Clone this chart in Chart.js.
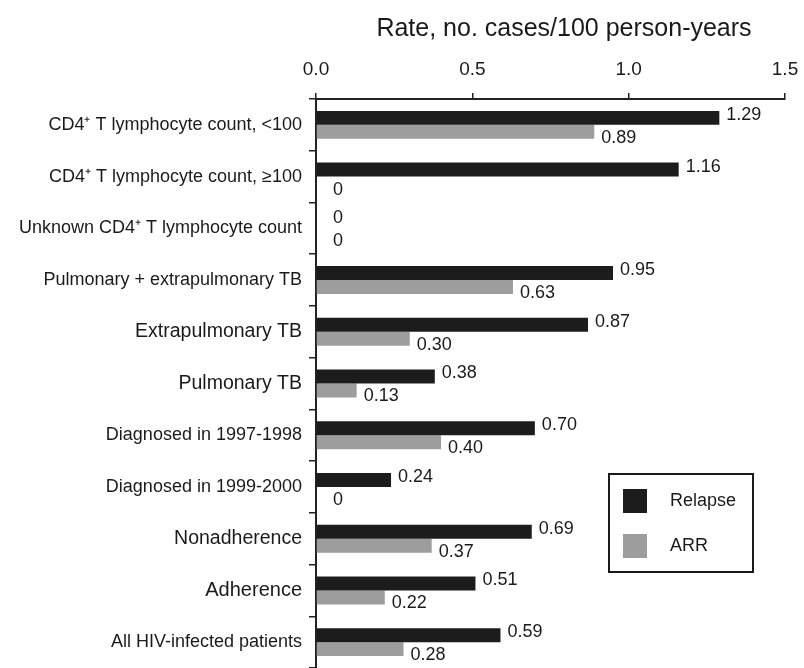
<!DOCTYPE html>
<html>
<head>
<meta charset="utf-8">
<script src="https://cdn.jsdelivr.net/npm/chart.js@4/dist/chart.umd.min.js"></script>
<style>
html,body{margin:0;padding:0;background:#fff;}
canvas{display:block;}
</style>
</head>
<body>
<canvas id="c" width="804" height="668"></canvas>
<script>
const categories = [
  "CD4\u207A T lymphocyte count, <100",
  "CD4\u207A T lymphocyte count, \u2265100",
  "Unknown CD4\u207A T lymphocyte count",
  "Pulmonary + extrapulmonary TB",
  "Extrapulmonary TB",
  "Pulmonary TB",
  "Diagnosed in 1997-1998",
  "Diagnosed in 1999-2000",
  "Nonadherence",
  "Adherence",
  "All HIV-infected patients"
];
const relapse = [1.29, 1.16, 0, 0.95, 0.87, 0.38, 0.70, 0.24, 0.69, 0.51, 0.59];
const arr = [0.89, 0, 0, 0.63, 0.30, 0.13, 0.40, 0, 0.37, 0.22, 0.28];
const xTicks = [0.0, 0.5, 1.0, 1.5];
const axisTitle = "Rate, no. cases/100 person-years";

const FONT = '"Liberation Sans", Arial, Helvetica, sans-serif';
const catFontSizes = [18,18,18,18,19.5,19.5,18,18,19.5,20,18];

const valueLabels = {
  id: 'valueLabels',
  afterDatasetsDraw(chart) {
    const ctx = chart.ctx;
    ctx.save();
    ctx.font = '18px ' + FONT;
    ctx.fillStyle = '#1a1a1a';
    ctx.textAlign = 'left';
    ctx.textBaseline = 'middle';
    chart.data.datasets.forEach((ds, di) => {
      const meta = chart.getDatasetMeta(di);
      meta.data.forEach((el, i) => {
        const v = ds.data[i];
        const txt = v === 0 ? '0' : v.toFixed(2);
        const dx = v === 0 ? 17 : 7;
        const dy = di === 0 ? -3 : 6;
        ctx.fillText(txt, el.x + dx, el.y + dy);
      });
    });
    ctx.restore();
  }
};

const titleAndLegend = {
  id: 'titleAndLegend',
  afterDraw(chart) {
    const ctx = chart.ctx;
    ctx.save();
    ctx.fillStyle = '#1a1a1a';
    ctx.font = '25px ' + FONT;
    ctx.textAlign = 'center';
    ctx.textBaseline = 'alphabetic';
    ctx.fillText(axisTitle, 564, 36);
    // legend
    ctx.strokeStyle = '#1a1a1a';
    ctx.lineWidth = 2;
    ctx.strokeRect(609, 474, 144, 98);
    ctx.font = '18px ' + FONT;
    ctx.textAlign = 'left';
    ctx.textBaseline = 'middle';
    chart.data.datasets.forEach((ds, di) => {
      const y = 489 + di * 45;
      ctx.fillStyle = ds.backgroundColor;
      ctx.fillRect(623, y, 24, 24);
      ctx.fillStyle = '#1a1a1a';
      ctx.fillText(ds.label, 670, y + 12);
    });
    ctx.restore();
  }
};

new Chart(document.getElementById('c'), {
  type: 'bar',
  data: {
    labels: categories,
    datasets: [
      { label: 'Relapse', data: relapse, backgroundColor: '#1c1c1c', categoryPercentage: 0.54, barPercentage: 1.0 },
      { label: 'ARR', data: arr, backgroundColor: '#9d9d9d', categoryPercentage: 0.54, barPercentage: 1.0 }
    ]
  },
  options: {
    indexAxis: 'y',
    responsive: false,
    animation: false,
    layout: { padding: { top: 0, left: 0, right: 19, bottom: -4 } },
    plugins: { legend: { display: false }, tooltip: { enabled: false } },
    scales: {
      x: {
        type: 'linear',
        position: 'top',
        min: 0,
        max: 1.5,
        afterBuildTicks(scale) { scale.ticks = xTicks.map(v => ({ value: v })); },
        afterFit(scale) { scale.height = 99; scale.paddingLeft = 0; scale.paddingRight = 0; },
        ticks: {
          callback: v => Number(v).toFixed(1),
          font: { family: FONT, size: 19 },
          color: '#1a1a1a',
          padding: 12,
          maxRotation: 0
        },
        grid: { drawOnChartArea: false, drawTicks: true, tickLength: 6, color: '#222', lineWidth: 1.5 },
        border: { display: true, color: '#222', width: 2 }
      },
      y: {
        afterFit(scale) { scale.width = 316; scale.paddingTop = 0; scale.paddingBottom = 0; },
        ticks: {
          font: ctx => ({ family: FONT, size: catFontSizes[ctx.index] || 18 }),
          color: '#1a1a1a',
          padding: 7,
          autoSkip: false
        },
        grid: { drawOnChartArea: false, drawTicks: true, tickLength: 7, color: '#222', lineWidth: 1.5, offset: true },
        border: { display: true, color: '#222', width: 2 }
      }
    }
  },
  plugins: [valueLabels, titleAndLegend]
});
</script>
</body>
</html>
